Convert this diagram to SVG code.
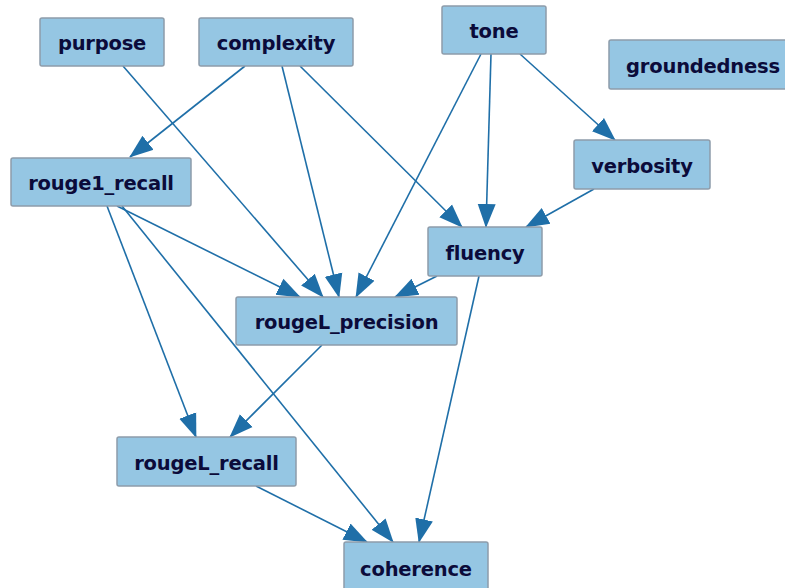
<svg xmlns="http://www.w3.org/2000/svg" width="785" height="588" viewBox="0 0 785 588">
<style>
.n rect{fill:#95c6e3;stroke:#8d9caa;stroke-width:1.5}
.n text{font-family:"DejaVu Sans",Verdana,sans-serif;font-weight:bold;font-size:19.5px;fill:#0b0b3a;text-anchor:middle;letter-spacing:-0.2px}
.e line{stroke:#1f6fa8;stroke-width:1.6;marker-end:url(#ah)}
</style>
<defs>
<marker id="ah" viewBox="0 -10 24 20" markerWidth="24" markerHeight="20" refX="23" refY="0" orient="auto" markerUnits="userSpaceOnUse">
<path d="M0,-9 L24,0 L0,9 z" fill="#1f6fa8"/>
</marker>
</defs>
<rect width="785" height="588" fill="#ffffff"/>
<g class="e" id="edges">
<line x1="123" y1="66" x2="323" y2="297"/>
<line x1="245" y1="66" x2="130" y2="157"/>
<line x1="282" y1="66" x2="339" y2="297"/>
<line x1="300" y1="66" x2="462" y2="227"/>
<line x1="481" y1="54" x2="356" y2="297"/>
<line x1="491" y1="54" x2="486" y2="227"/>
<line x1="520" y1="54" x2="615" y2="140"/>
<line x1="594" y1="189" x2="526" y2="227"/>
<line x1="437" y1="276" x2="395" y2="297"/>
<line x1="479" y1="276" x2="419" y2="542"/>
<line x1="117" y1="206" x2="300" y2="297"/>
<line x1="107" y1="206" x2="196" y2="437"/>
<line x1="122" y1="206" x2="393" y2="542"/>
<line x1="322" y1="345" x2="230" y2="437"/>
<line x1="256" y1="486" x2="367" y2="542"/>
</g>
<g class="n" id="purpose"><rect x="40" y="18" width="124" height="48" rx="2"/><text x="102" y="50">purpose</text></g>
<g class="n" id="complexity"><rect x="199" y="18" width="154" height="48" rx="2"/><text x="276" y="50">complexity</text></g>
<g class="n" id="tone"><rect x="442" y="6" width="104" height="48" rx="2"/><text x="494" y="38">tone</text></g>
<g class="n" id="groundedness"><rect x="609" y="40" width="185" height="49" rx="2"/><text x="703" y="73">groundedness</text></g>
<g class="n" id="rouge1_recall"><rect x="11" y="158" width="180" height="48" rx="2"/><text x="101" y="190">rouge1_recall</text></g>
<g class="n" id="verbosity"><rect x="574" y="140" width="136" height="49" rx="2"/><text x="642" y="173">verbosity</text></g>
<g class="n" id="fluency"><rect x="428" y="227" width="114" height="49" rx="2"/><text x="485" y="260">fluency</text></g>
<g class="n" id="rougeL_precision"><rect x="236" y="297" width="221" height="48" rx="2"/><text x="346.5" y="329">rougeL_precision</text></g>
<g class="n" id="rougeL_recall"><rect x="117" y="437" width="179" height="49" rx="2"/><text x="206.5" y="470">rougeL_recall</text></g>
<g class="n" id="coherence"><rect x="344" y="542" width="144" height="52" rx="2"/><text x="416" y="576">coherence</text></g>
</svg>
